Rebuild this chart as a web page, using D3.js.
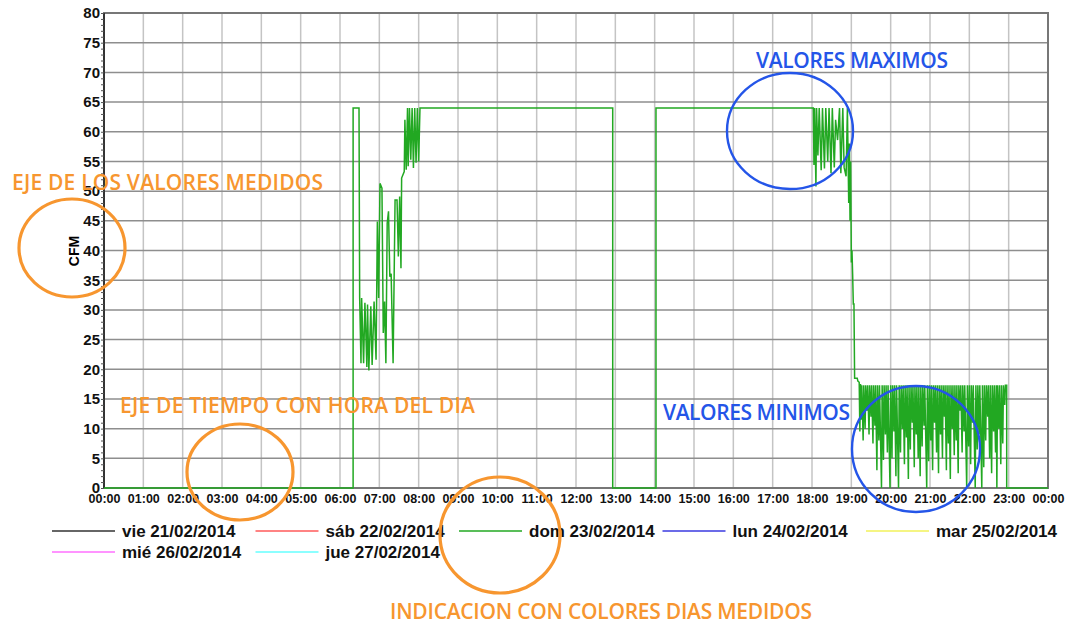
<!DOCTYPE html>
<html lang="es">
<head>
<meta charset="UTF-8">
<title>CFM dom 23/02/2014</title>
<script src="https://d3js.org/d3.v7.min.js"></script>
<style>
  body { margin: 0; background: #fff; }
  svg { display: block; }
  .tick text { font-family: "Liberation Sans", Arial, sans-serif; font-weight: bold; fill: #111; }
  .domain { display: none; }
  .note { font-family: "Open Sans", "DejaVu Sans", sans-serif; font-weight: 600; }
  .legend text { font-family: "Liberation Sans", Arial, sans-serif; font-weight: bold; font-size: 17px; fill: #111; }
</style>
</head>
<body>
<svg width="1070" height="628"></svg>
<script>
// hour ticks (minutes of the day) and their labels
const hourTicks = [0,60,120,180,240,300,360,420,480,540,600,660,720,780,840,900,960,1020,1080,1140,1200,1260,1320,1380,1440];
const hourLabels = ["00:00","01:00","02:00","03:00","04:00","05:00","06:00","07:00","08:00","09:00","10:00","11:00",
  "12:00","13:00","14:00","15:00","16:00","17:00","18:00","19:00","20:00","21:00","22:00","23:00","00:00"];
const cfmTicks = [0,5,10,15,20,25,30,35,40,45,50,55,60,65,70,75,80];

const days = ["vie 21/02/2014","sáb 22/02/2014","dom 23/02/2014","lun 24/02/2014","mar 25/02/2014","mié 26/02/2014","jue 27/02/2014"];
const dayColors = ["#333333","#ff5a5a","#22a822","#3a3ae0","#f2f25a","#ff70ff","#66ffff"];

// readings of dom 23/02/2014 (time, CFM)
const domReadings = [
  ["00:00",0],["06:20",0],["06:20",64],["06:29",64],["06:30",32],["06:32",21],["06:33",32],["06:36",21],["06:38",31.2],
  ["06:41",20.4],["06:42",30.9],["06:44",19.8],["06:47",30.6],["06:49",20.7],["06:52",31.4],["06:55",21.6],["06:57",44.9],
  ["06:59",32],["07:01",51.3],["07:04",50.5],["07:06",26.1],["07:08",31.4],["07:10",21],["07:12",44.6],["07:14",46.6],
  ["07:16",35.6],["07:18",36.1],["07:20",26],["07:21",21],["07:24",48.5],["07:27",48.5],["07:29",39],["07:31",49.1],
  ["07:33",37],["07:34",52.2],["07:38",53.3],["07:39",62],["07:41",53.6],["07:43",64],["07:44",54.2],["07:46",64],
  ["07:48",55.3],["07:50",64],["07:52",53.9],["07:54",64],["07:56",54.8],["07:58",64],["08:00",55],["08:02",64],
  ["12:56",64],["12:56",0],["14:02",0],["14:02",64],["18:02",64],["18:03",54.4],["18:04",64],["18:06",50.8],["18:07",64],
  ["18:09",56],["18:11",64],["18:14",53.5],["18:16",64],["18:19",53.8],["18:21",64],["18:24",55],["18:26",64],["18:29",53],
  ["18:31",64],["18:34",54],["18:36",62],["18:39",58.6],["18:42",64],["18:44",53],["18:47",64],["18:49",54],["18:52",52.5],
  ["18:54",64],["18:56",48],["18:57",58],["18:58",45],["18:59",55],["19:00",38],["19:01",40],["19:02",36],["19:03",31],
  ["19:04",31],["19:05",18.5],["19:09",18.5],["19:10",18],["19:12",17.8],["19:13",9.5],["19:14",17.5],["19:15",11.5],
  ["19:16",17.3],["19:18",8],["19:19",17.3],["19:21",10],["19:22",17.3],["19:24",13],["19:25",17.3],["19:27",9],["19:28",17.3],
  ["19:30",12],["19:31",17.3],["19:33",7.5],["19:34",17.3],["19:36",10.5],["19:37",17.3],["19:39",3],["19:40",17.3],
  ["19:42",8],["19:43",17.3],["19:46",0],["19:47",17.3],["19:49",4.7],["19:50",17.3],["19:52",9],["19:53",17.3],["19:55",6],
  ["19:56",17.3],["19:59",0],["20:00",17.3],["20:02",5],["20:03",17.3],["20:05",9.5],["20:06",17.3],["20:08",2],["20:09",17.3],
  ["20:12",0],["20:13",17.3],["20:15",6],["20:16",17.3],["20:18",10],["20:19",17.3],["20:21",4],["20:22",17.3],["20:24",8.5],
  ["20:25",17.3],["20:27",1.5],["20:28",17.3],["20:30",6.5],["20:31",17.3],["20:33",11],["20:34",17.3],["20:36",3.5],
  ["20:37",17.3],["20:39",9],["20:40",17.3],["20:42",5],["20:43",17.3],["20:45",2],["20:46",17.3],["20:48",7],["20:49",17.3],
  ["20:51",10.5],["20:52",17.3],["20:55",0],["20:56",17.3],["20:58",4.5],["20:59",17.3],["21:01",8],["21:02",17.3],["21:04",3],
  ["21:05",17.3],["21:07",11],["21:08",17.3],["21:10",6],["21:11",17.3],["21:13",2.5],["21:14",17.3],["21:16",9],["21:17",17.3],
  ["21:19",5],["21:20",17.3],["21:22",12],["21:23",17.3],["21:25",3],["21:26",17.3],["21:28",7.5],["21:29",17.3],["21:31",1.5],
  ["21:32",17.3],["21:34",10],["21:35",17.3],["21:37",5.5],["21:38",17.3],["21:40",8],["21:41",17.3],["21:43",2.5],["21:44",17.3],
  ["21:46",13],["21:47",17.3],["21:49",6],["21:50",17.3],["21:52",9.5],["21:53",17.3],["21:56",0],["21:57",17.3],["21:59",7],
  ["22:00",17.3],["22:02",4],["22:03",17.3],["22:05",11],["22:06",17.3],["22:09",0],["22:10",17.3],["22:12",6.5],["22:13",17.3],
  ["22:15",9],["22:16",17.3],["22:19",0],["22:20",17.3],["22:22",3.5],["22:23",17.3],["22:25",8],["22:26",17.3],["22:28",12],
  ["22:29",17.3],["22:31",5],["22:32",17.3],["22:34",2.5],["22:35",17.3],["22:37",9.5],["22:38",17.3],["22:40",6],["22:41",17.3],
  ["22:42",0],["22:43",17.3],["22:45",10],["22:46",17.3],["22:48",4],["22:49",17.3],["22:51",7.5],["22:52",17.3],["22:54",14],
  ["22:55",17.3],["22:57",17.3],["22:57",0],["24:00",0]
];

const toMin = s => { const [h, m] = s.split(":").map(Number); return h * 60 + m; };

const svg = d3.select("svg");
const plotLeft = 104, plotRight = 1048, plotTop = 13, plotBottom = 488;

const x = d3.scaleLinear().domain([0, 1440]).range([plotLeft, plotRight]);
const y = d3.scaleLinear().domain([0, 80]).range([plotBottom, plotTop]);

// grid
svg.append("g").selectAll("line").data(hourTicks).join("line")
  .attr("x1", d => x(d)).attr("x2", d => x(d)).attr("y1", plotTop).attr("y2", plotBottom)
  .attr("stroke", "#c4c4c4").attr("stroke-width", 1.5);
svg.append("g").selectAll("line").data(cfmTicks).join("line")
  .attr("x1", plotLeft).attr("x2", plotRight).attr("y1", d => y(d)).attr("y2", d => y(d))
  .attr("stroke", "#8e8e8e").attr("stroke-width", 1.5);

// frame
svg.append("rect").attr("x", plotLeft).attr("y", plotTop)
  .attr("width", plotRight - plotLeft).attr("height", plotBottom - plotTop)
  .attr("fill", "none").attr("stroke", "#777").attr("stroke-width", 2);
svg.append("line").attr("x1", plotLeft).attr("x2", plotLeft).attr("y1", plotTop).attr("y2", plotBottom)
  .attr("stroke", "#333").attr("stroke-width", 2);

// minor ticks on the value axis
svg.append("g").attr("transform", `translate(${plotLeft},0)`)
  .call(d3.axisLeft(y).ticks(80).tickSize(3).tickFormat(""))
  .selectAll("line").attr("stroke", "#555");

// the green line
const line = d3.line().x(d => x(toMin(d[0]))).y(d => y(d[1]));
svg.append("path").datum(domReadings)
  .attr("fill", "none").attr("stroke", dayColors[2]).attr("stroke-width", 1.5)
  .attr("d", line);

// axes labels
const yAxis = svg.append("g").attr("transform", `translate(${plotLeft},0)`)
  .call(d3.axisLeft(y).tickValues(cfmTicks).tickSize(0).tickPadding(4));
yAxis.selectAll("text").attr("font-size", 15);
const xAxis = svg.append("g").attr("transform", `translate(0,${plotBottom})`)
  .call(d3.axisBottom(x).tickValues(hourTicks).tickFormat((d, i) => hourLabels[i]).tickSize(0).tickPadding(6));
xAxis.selectAll("text").attr("font-size", 12.5);

svg.append("text").attr("transform", "translate(79,251) rotate(-90)")
  .attr("text-anchor", "middle").attr("font-family", "Liberation Sans, Arial, sans-serif")
  .attr("font-weight", "bold").attr("font-size", 14).text("CFM");

// legend
const legend = svg.append("g").attr("class", "legend");
const item = legend.selectAll("g").data(days).join("g")
  .attr("transform", (d, i) => `translate(${52 + (i % 5) * 203.5},${531 + Math.floor(i / 5) * 21})`);
item.append("line").attr("x1", 0).attr("x2", 63).attr("stroke", (d, i) => dayColors[i]).attr("stroke-width", 1.5);
item.append("text").attr("x", 70).attr("dy", "0.35em").text(d => d);

// annotations
const orange = "#f7962f", blue = "#2455e8";
const notes = [
  { t: "EJE DE LOS VALORES MEDIDOS", x: 12, y: 190, w: 311, c: orange },
  { t: "EJE DE TIEMPO CON HORA DEL DIA", x: 120, y: 413, w: 355, c: orange },
  { t: "INDICACION CON COLORES DIAS MEDIDOS", x: 390, y: 619, w: 422, c: orange },
  { t: "VALORES MAXIMOS", x: 756, y: 68, w: 192, c: blue },
  { t: "VALORES MINIMOS", x: 663, y: 420, w: 187, c: blue }
];
svg.append("g").selectAll("text").data(notes).join("text").attr("class", "note")
  .attr("x", d => d.x).attr("y", d => d.y).attr("fill", d => d.c).attr("font-size", 21)
  .attr("textLength", d => d.w).attr("lengthAdjust", "spacing").text(d => d.t);

const rings = [
  { cx: 72, cy: 248, rx: 53, ry: 49, c: orange },
  { cx: 240, cy: 472, rx: 53, ry: 48, c: orange },
  { cx: 500, cy: 535, rx: 60, ry: 58, c: orange },
  { cx: 790, cy: 131, rx: 63, ry: 58, c: blue },
  { cx: 916, cy: 449, rx: 64, ry: 63, c: blue }
];
svg.append("g").selectAll("ellipse").data(rings).join("ellipse")
  .attr("cx", d => d.cx).attr("cy", d => d.cy).attr("rx", d => d.rx).attr("ry", d => d.ry)
  .attr("fill", "none").attr("stroke", d => d.c).attr("stroke-width", d => d.c === orange ? 3.2 : 2.4);
</script>
</body>
</html>
